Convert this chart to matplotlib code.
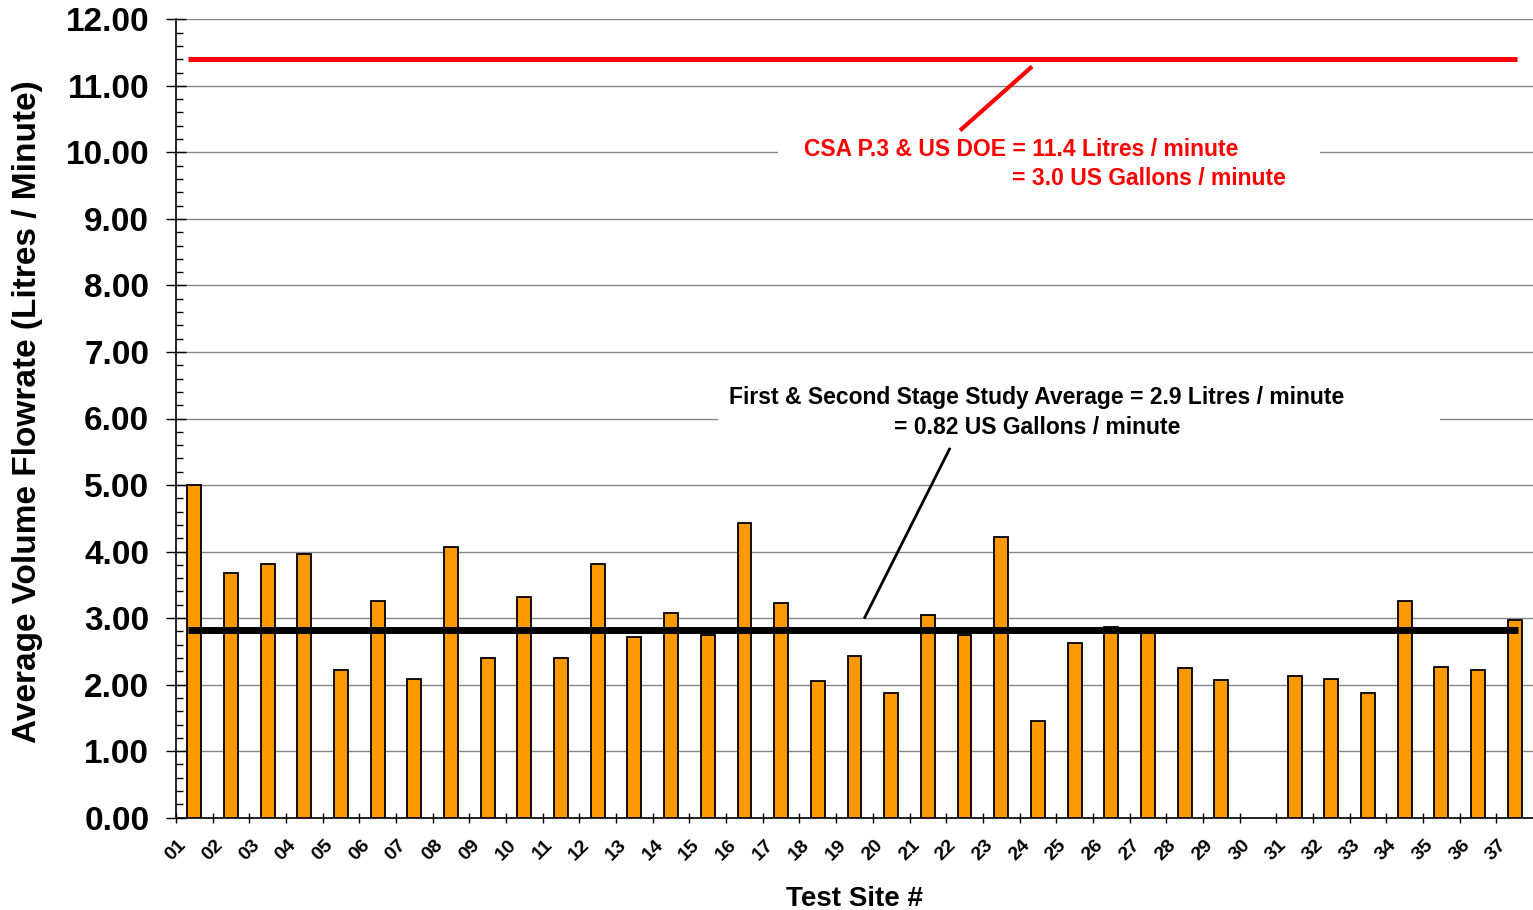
import numpy
import matplotlib
matplotlib.use('Agg')
import matplotlib.pyplot as plt
from matplotlib.patches import Rectangle
from matplotlib.ticker import MultipleLocator

plt.rcParams['font.family'] = ['Liberation Sans', 'DejaVu Sans']
plt.rcParams['font.weight'] = 'bold'

# data
sites = ['%02d' % i for i in range(1, 38)]
flow = [5.00, 3.68, 3.81, 3.96, 2.22, 3.26, 2.09, 4.07, 2.40, 3.31,
        2.40, 3.81, 2.72, 3.07, 2.74, 4.43, 3.23, 2.06, 2.43, 1.88,
        3.05, 2.74, 4.22, 1.46, 2.63, 2.87, 2.84, 2.25, 2.07, None,
        2.13, 2.08, 1.87, 3.26, 2.27, 2.22, 2.97]
standard_lpm = 11.4
study_avg_lpm = 2.82

red_text = ['CSA P.3 & US DOE = 11.4 Litres / minute',
            '= 3.0 US Gallons / minute']
black_text = ['First & Second Stage Study Average = 2.9 Litres / minute',
              '= 0.82 US Gallons / minute']


fig = plt.figure(figsize=(15.33, 9.10), dpi=100)
ax = fig.add_axes([176/1533, 1 - 817.7/910, 1357/1533, (817.7 - 19.3)/910])

#bars, skip the missing site
xx = [i + 0.5 for i in range(len(sites)) if flow[i] is not None]
yy = [v for v in flow if v is not None]
ax.bar(xx, yy, width=0.38, color='#FF9900', edgecolor='black', linewidth=1.3, zorder=3)

#reference lines
ax.plot([0.32, 36.57], [standard_lpm, standard_lpm], color='#FF0000', linewidth=3.6, zorder=4, solid_capstyle='butt')
ax.plot([0.33, 36.59], [study_avg_lpm, study_avg_lpm], color='black', linewidth=5.0, zorder=4, solid_capstyle='butt')

#text boxes hiding the grid
ax.add_patch(Rectangle((16.41, 9.36), 14.78, 0.90, facecolor='white', edgecolor='none', zorder=2))
ax.add_patch(Rectangle((14.78, 5.65), 19.68, 0.90, facecolor='white', edgecolor='none', zorder=2))

ax.text(17.12, 10.05, red_text[0], color='#FF0000', fontsize=16.5, fontweight='bold', va='center', ha='left', zorder=5)
ax.text(22.79, 9.60, red_text[1], color='#FF0000', fontsize=16.5, fontweight='bold', va='center', ha='left', zorder=5)
ax.text(23.47, 6.32, black_text[0], color='black', fontsize=16.5, fontweight='bold', va='center', ha='center', zorder=5)
ax.text(23.47, 5.87, black_text[1], color='black', fontsize=16.5, fontweight='bold', va='center', ha='center', zorder=5)

#pointer lines
ax.plot([21.42, 23.30], [10.35, 11.27], color='#FF0000', linewidth=3.0, zorder=5)
ax.plot([21.09, 18.78], [5.54, 3.01], color='black', linewidth=2.0, zorder=5)

#axes
ax.set_xlim(0, 37)
ax.set_ylim(0, 12)
ax.set_xticks(range(len(sites)))
ax.set_xticklabels(sites, rotation=45, ha='center', va='top', fontsize=14, fontweight='bold')
ax.yaxis.set_major_locator(MultipleLocator(1.0))
ax.yaxis.set_minor_locator(MultipleLocator(0.2))
ax.set_yticklabels(['%.2f' % v for v in ax.get_yticks()], fontsize=24, fontweight='bold')
ax.tick_params(axis='y', which='major', direction='inout', length=14.4, width=1.0, pad=12.0)
ax.tick_params(axis='y', which='minor', direction='in', length=5, width=1.0)
ax.tick_params(axis='x', which='major', direction='inout', length=7.2, width=1.0, pad=10)

ax.grid(axis='y', which='major', color='#868686', linewidth=1.0, zorder=0)
ax.set_axisbelow(True)
for s in ['top', 'right']:
    ax.spines[s].set_visible(False)
ax.spines['left'].set_linewidth(1.2)
ax.spines['bottom'].set_linewidth(1.2)

ax.set_xlabel('Test Site #', fontsize=20, fontweight='bold', labelpad=16)
ax.set_ylabel('Average Volume Flowrate (Litres / Minute)', fontsize=24, fontweight='bold')
ax.yaxis.set_label_coords(-0.098, 0.508)

plt.savefig('out.png', dpi=100)
plt.close()
